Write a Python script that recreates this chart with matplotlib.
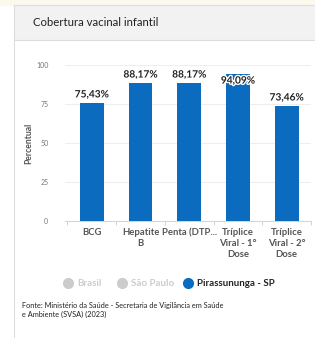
import matplotlib.pyplot as plt
import matplotlib.patheffects as pe
from matplotlib.patches import Rectangle
from matplotlib.lines import Line2D

plt.rcParams['font.family'] = ['Lato', 'DejaVu Sans']

# data
categories = ['BCG', 'Hepatite\nB', 'Penta (DTP...', 'Tríplice\nViral - 1°\nDose', 'Tríplice\nViral - 2°\nDose']
values = [75.43, 88.17, 88.17, 94.09, 73.46]
labels = ['75,43%', '88,17%', '88,17%', '94,09%', '73,46%']
yticks = [0, 25, 50, 75, 100]
legend_names = ['Brasil', 'São Paulo', 'Pirassununga - SP']
legend_colors = ['#cccccc', '#cccccc', '#0b6cbf']

W, H = 315, 338
fig = plt.figure(figsize=(W/100, H/100), dpi=100)
fig.patch.set_facecolor('white')

# card frame + header band
fig.add_artist(Rectangle((0, 1 - 5/H), 1, 5/H, transform=fig.transFigure, color='#fbf8ee', zorder=0))
fig.add_artist(Rectangle((14/W, 1 - 40/H), 1, 35/H, transform=fig.transFigure,
                         facecolor='#f2f2f2', edgecolor='none', zorder=0))
fig.add_artist(Line2D([14/W, 14/W], [0, 1 - 5/H], transform=fig.transFigure, color='#dddddd', lw=0.8))
fig.add_artist(Line2D([14/W, 1], [1 - 5/H, 1 - 5/H], transform=fig.transFigure, color='#dddddd', lw=0.8))
fig.add_artist(Line2D([14/W, 1], [1 - 40/H, 1 - 40/H], transform=fig.transFigure, color='#dddddd', lw=0.8))
fig.text(33/W, 1 - 22/H, 'Cobertura vacinal infantil', fontsize=8.2, color='#222222', va='center')

ax = fig.add_axes([65/W, 1 - 221/H, 246/W, 156/H])
x = range(len(values))
bars = ax.bar(x, values, width=0.49, color='#0b6cbf', zorder=2)
for i, v in enumerate(values):
    # label goes above the bar, or just inside it when there is no room
    if v + 2.5 + 7 > 100:
        ypos, va = v - 1.5, 'top'
    else:
        ypos, va = v + 2.5, 'bottom'
    ax.text(i, ypos, labels[i], ha='center', va=va, fontsize=7.3, fontweight='bold',
            color='#222222', zorder=3, clip_on=False,
            path_effects=[pe.withStroke(linewidth=2, foreground='white')])

ax.set_xlim(-0.55, 4.5)
ax.set_ylim(0, 100)
ax.set_yticks(yticks)
ax.set_yticklabels([str(t) for t in yticks], fontsize=5, color='#777777')
ax.tick_params(axis='y', length=0, pad=12)
ax.yaxis.grid(True, color='#eeeeee', lw=0.8, zorder=0)
ax.set_xticks(list(x))
ax.set_xticklabels(categories, fontsize=6.8, color='#555555', fontweight='bold', linespacing=1.3)
ax.tick_params(axis='x', length=0, pad=5)
ax.set_xticks([i + 0.5 for i in range(-1, 5)], minor=True)
ax.tick_params(axis='x', which='minor', length=3, color='#cccccc', width=0.6)
for s in ['top', 'right', 'left']:
    ax.spines[s].set_visible(False)
ax.spines['bottom'].set_color('#cccccc')
ax.spines['bottom'].set_linewidth(0.6)
ax.set_ylabel('Percentual', fontsize=6.2, color='#555555', fontweight='bold', labelpad=2)

# legend
lx = [68, 122, 188]
for px, name, col in zip(lx, legend_names, legend_colors):
    fig.add_artist(Line2D([px/W], [1 - 283/H], marker='o', markersize=7, color=col,
                          transform=fig.transFigure, lw=0))
    fig.text((px + 9)/W, 1 - 283/H, name, fontsize=7, fontweight='bold', va='center',
             color='#222222' if col != '#cccccc' else '#cccccc')

fig.text(22/W, 1 - 310/H, 'Fonte: Ministério da Saúde - Secretaria de Vigilância em Saúde\ne Ambiente (SVSA) (2023)',
         fontsize=5.3, color='#222222', va='center', linespacing=1.3)

fig.savefig('out.png', dpi=100)
